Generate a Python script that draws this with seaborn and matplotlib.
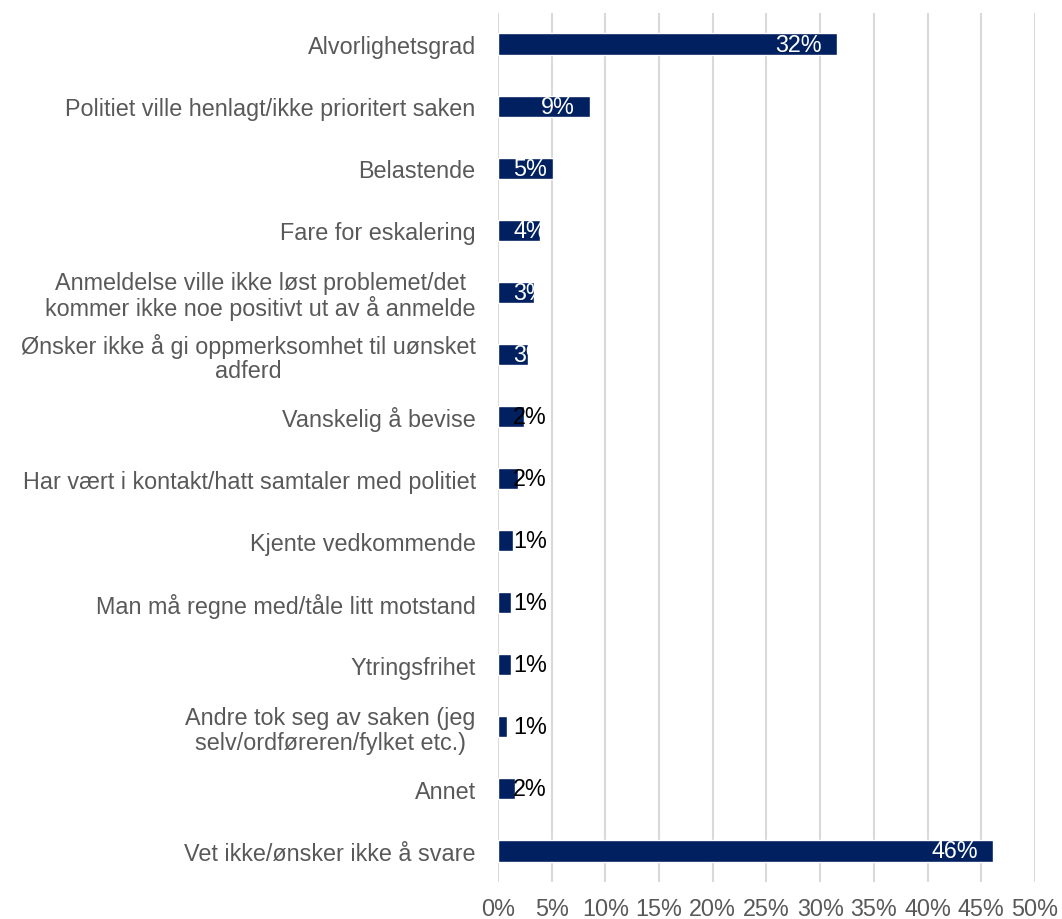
import matplotlib
matplotlib.use("Agg")
import matplotlib.pyplot as plt
import seaborn as sns
import pandas as pd
from matplotlib.patches import Rectangle

categories = [
    "Alvorlighetsgrad",
    "Politiet ville henlagt/ikke prioritert saken",
    "Belastende",
    "Fare for eskalering",
    "Anmeldelse ville ikke løst problemet/det\nkommer ikke noe positivt ut av å anmelde",
    "Ønsker ikke å gi oppmerksomhet til uønsket\nadferd",
    "Vanskelig å bevise",
    "Har vært i kontakt/hatt samtaler med politiet",
    "Kjente vedkommende",
    "Man må regne med/tåle litt motstand",
    "Ytringsfrihet",
    "Andre tok seg av saken (jeg\nselv/ordføreren/fylket etc.)",
    "Annet",
    "Vet ikke/ønsker ikke å svare",
]
values = [31.6, 8.6, 5.1, 3.9, 3.4, 2.8, 2.4, 1.9, 1.4, 1.2, 1.2, 0.8, 1.6, 46.1]
xticks = [0, 5, 10, 15, 20, 25, 30, 35, 40, 45, 50]

BAR = "#002060"
TXT = "#595959"
FS = 16.8

sns.set_theme(style="white")
plt.rcParams["font.family"] = ["Liberation Sans", "DejaVu Sans"]

df = pd.DataFrame({"cat": categories, "val": values})

fig = plt.figure(figsize=(10.62, 9.20), dpi=100)
ax = fig.add_axes([0.4689, 0.0402, 0.5057, 0.9446])

sns.barplot(data=df, y="cat", x="val", orient="h", color=BAR, saturation=1,
            width=0.34, ax=ax, zorder=3)

ax.set_xlim(0, 50)
ax.set_ylim(len(categories) - 0.5, -0.5)
ax.set_xticks(xticks)
ax.set_xticklabels([f"{t}%" for t in xticks])
ax.set_xlabel("")
ax.set_ylabel("")
for s in ax.spines.values():
    s.set_visible(False)
ax.grid(axis="x", color="#D9D9D9", linewidth=1.5, zorder=0)
ax.grid(axis="y", visible=False)
ax.tick_params(axis="x", length=0, pad=11, labelsize=FS, labelcolor=TXT)
ax.tick_params(axis="y", length=0, pad=16, labelsize=FS, labelcolor=TXT)
for lbl in ax.get_yticklabels():
    lbl.set_multialignment("center")
    lbl.set_linespacing(1.08)

# data labels, Excel "inside end" style
bars = [p for p in ax.patches if isinstance(p, Rectangle)][:len(values)]
for i, (v, bar) in enumerate(zip(values, bars)):
    txt = f"{round(v):.0f}%"
    if round(v) >= 3:
        if v >= 8:
            t = ax.annotate(txt, xy=(v, i), xytext=(-11, 0), textcoords="offset points",
                            ha="right", va="center", color="white", fontsize=FS, zorder=5)
        else:
            t = ax.annotate(txt, xy=(0, i), xytext=(11, 0), textcoords="offset points",
                            ha="left", va="center", color="white", fontsize=FS, zorder=5)
        t.set_clip_path(bar)
    else:
        ax.annotate(txt, xy=(0, i), xytext=(11, 0), textcoords="offset points",
                    ha="left", va="center", color="black", fontsize=FS, zorder=5)

fig.savefig("out.png", dpi=100)
